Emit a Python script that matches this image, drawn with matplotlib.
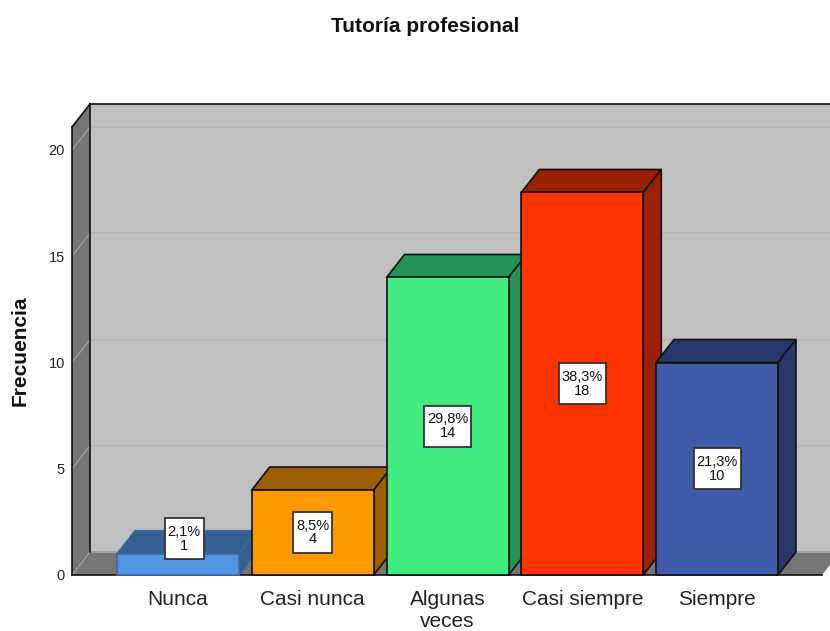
import matplotlib
matplotlib.use('Agg')
import matplotlib.pyplot as plt
from matplotlib.patches import Rectangle

categories = ['Nunca', 'Casi nunca', 'Algunas\nveces', 'Casi siempre', 'Siempre']
counts = [1, 4, 14, 18, 10]
percents = ['2,1%', '8,5%', '29,8%', '38,3%', '21,3%']
yticks = [0, 5, 10, 15, 20]

front_colors = ['#5294E2', '#FF9900', '#40EB80', '#FF3300', '#3F5AA8']
top_colors = ['#335F92', '#9C5E00', '#259255', '#9A2100', '#26376A']
edge_colors = ['#3D6A9E', '#111111', '#111111', '#111111', '#111111']

plt.rcParams['font.family'] = ['Liberation Sans', 'DejaVu Sans']

fig = plt.figure(figsize=(8.3, 6.31), dpi=100)
# front plane of the fake 3d box, pixels of the 830x631 picture
ax = fig.add_axes([72 / 830, 56 / 631, 750 / 830, 448 / 631])

px_x = 134.75  # pixels per category
px_y = 21.25   # pixels per count
ymax = 448 / px_y
xmin = (72 - 178) / px_x
xmax = (822 - 178) / px_x
ax.set_xlim(xmin, xmax)
ax.set_ylim(0, ymax)

dx = 18 / px_x
dy = 23 / px_y
width = 122 / px_x
wall = '#C0C0C0'
side = '#757575'


def poly(xs, ys, face, edge='none', lw=0, z=1):
    ax.fill(xs, ys, facecolor=face, edgecolor=edge, linewidth=lw, clip_on=False,
            zorder=z, joinstyle='round')


# back wall, side wall, floor
poly([xmin + dx, xmax + 2 * dx, xmax + 2 * dx, xmin + dx], [dy, dy, ymax + dy, ymax + dy], wall)
poly([xmin, xmin + dx, xmin + dx, xmin], [0, dy, ymax + dy, ymax], side)
poly([xmin, xmax, xmax + dx, xmin + dx], [0, 0, dy, dy], side)

# gridlines go across the wall and down the side
for t in yticks[1:]:
    ax.plot([xmin + dx, xmax + 2 * dx], [t + dy, t + dy], color='#B5B5B5', lw=1.5,
            clip_on=False, zorder=1.1)
    ax.plot([xmin, xmin + dx], [t, t + dy], color='#A0A0A0', lw=1, clip_on=False, zorder=1.1)
ax.plot([xmin + dx, xmax + 2 * dx], [dy, dy], color='#A0A0A0', lw=1.4, clip_on=False, zorder=1.1)
ax.plot([xmin, xmin + dx], [0, dy], color='#A0A0A0', lw=1, clip_on=False, zorder=1.1)

# box outline
line = dict(color='#111111', lw=1.2, clip_on=False, zorder=1.2)
ax.plot([xmin + dx, xmin + dx], [dy, ymax + dy], **line)
ax.plot([xmin + dx, xmax + 2 * dx], [ymax + dy, ymax + dy], **line)
ax.plot([xmin, xmin + dx], [ymax, ymax + dy], **line)
ax.plot([xmin, xmin], [0, ymax], **line)
ax.plot([xmin, xmax], [0, 0], **line)

# bars
for i, v in enumerate(counts):
    z = 2 + i
    l = i - width / 2
    r = i + width / 2
    poly([l, r, r + dx, l + dx], [v, v, v + dy, v + dy], top_colors[i], edge_colors[i], 1.2, z)
    poly([r, r + dx, r + dx, r], [0, dy, v + dy, v], top_colors[i], edge_colors[i], 1.2, z)
    poly([l, r, r, l], [0, 0, v, v], front_colors[i], edge_colors[i], 1.2, z)

# labels sit in the middle of the bar, a too small bar pushes its label up and to the side
box_h = 41 / px_y
for i, v in enumerate(counts):
    if v / 2 < 1.7:
        lx, ly = i + dx / 3, 1.7
    else:
        lx, ly = i, v / 2
    box_w = (39 if len(percents[i]) == 4 else 47) / px_x
    ax.add_patch(Rectangle((lx - box_w / 2, ly - box_h / 2), box_w, box_h, facecolor='white',
                           edgecolor='#333333', linewidth=1.3, zorder=9, clip_on=False))
    ax.text(lx, ly, percents[i] + '\n' + str(v), ha='center', va='center',
            fontsize=10.5, color='#111111', linespacing=0.98, zorder=10, clip_on=False)

for s in ax.spines.values():
    s.set_visible(False)
ax.patch.set_visible(False)
ax.set_xticks(range(len(categories)))
ax.set_xticklabels(categories, fontsize=15, color='#222222', linespacing=1.2)
ax.set_yticks(yticks)
ax.tick_params(axis='x', length=0, pad=11)
ax.tick_params(axis='y', length=0, pad=5, labelsize=10.5, labelcolor='#222222')
ax.set_ylabel('Frecuencia', fontsize=15, fontweight='bold', color='#111111', labelpad=14)

fig.text(425 / 830, 1 - 26 / 631, 'Tutoría profesional', ha='center', va='center',
         fontsize=15, fontweight='bold', color='#111111')

fig.savefig('out.png', dpi=100)
